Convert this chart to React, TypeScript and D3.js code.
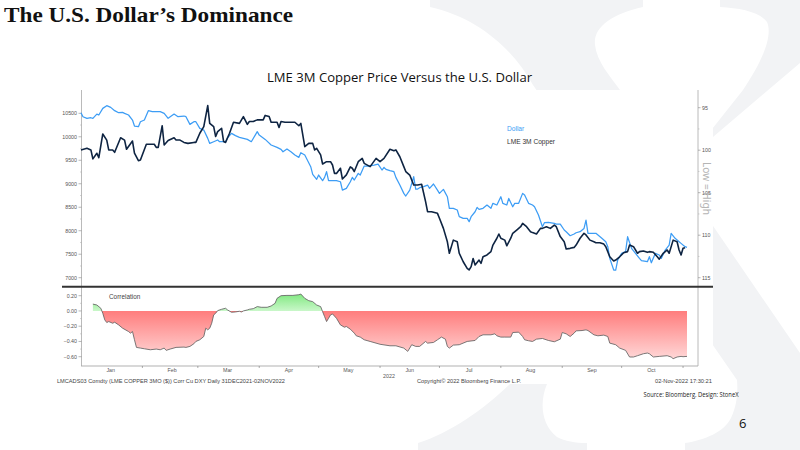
import React from "react";
import * as d3 from "d3";

const START = "2022-01-01";

// days since START
const copperDays = [0,3,5,6,8,9,11,13,14,16,17,20,22,23,26,27,29,30,33,35,37,38,39,41,42,44,47,48,50,52,54,57,58,60,62,64,65,67,68,69,71,72,73,75,77,80,82,84,85,87,89,90,92,93,95,96,97,99,100,101,103,106,108,110,111,113,115,117,118,119,121,122,124,126,127,128,129,131,132,134,136,137,138,140,142,143,146,149,151,153,156,158,159,161,163,164,166,168,170,172,174,175,177,180,181,183,185,186,188,190,191,193,195,196,197,198,199,201,202,203,205,207,208,210,211,212,214,215,217,218,220,222,223,225,227,228,230,232,233,235,237,239,240,242,244,245,247,249,250,252,254,255,257,259,260,262,264,265,267,269,270,272,274,276,277,279,281,282,284,286,287,289,291,292,294,296,297,299,301,302,303,304,305];
const copperPrice = [9720,9755,9720,9530,9650,9555,10060,9930,9720,9720,9670,9980,9930,9735,9910,9650,9490,9505,9840,9840,9840,9775,9775,10235,9825,9920,9980,9930,9930,9880,9860,9880,9880,10075,10215,10665,10285,10215,10005,10110,10180,9900,9880,10075,10310,10285,10430,10265,10325,10325,10360,10360,10360,10455,10430,10310,10310,10310,10200,10325,10310,10310,10310,10235,10285,9790,9860,9860,9720,9755,9615,9420,9470,9470,9400,9220,9220,9330,9100,9190,9360,9330,9260,9470,9540,9435,9365,9540,9470,9540,9735,9705,9720,9575,9365,9260,9185,8975,8975,8990,8620,8405,8405,8370,8265,8050,7765,7520,7800,7765,7520,7340,7200,7165,7235,7410,7270,7375,7305,7445,7485,7555,7695,7840,7930,7840,7800,7680,7840,7945,8015,8085,8155,8085,7980,7960,7930,8050,8050,8085,8050,8120,8085,7875,7765,7610,7625,7645,7695,7840,7945,7910,7800,7765,7745,7745,7715,7660,7445,7355,7375,7445,7530,7555,7695,7660,7520,7555,7570,7540,7555,7540,7445,7395,7520,7590,7520,7800,7765,7590,7485,7625,7640];

const dollarDays = [0,1,3,5,6,8,9,11,13,15,17,19,21,22,24,26,27,29,30,32,34,36,38,40,42,44,47,49,52,53,55,57,58,60,62,64,65,67,69,70,73,74,76,78,80,84,86,89,90,93,96,99,101,102,104,106,108,110,111,113,116,117,119,120,122,123,124,125,127,129,131,132,134,136,137,138,140,141,143,145,148,150,152,153,154,156,158,159,161,163,164,166,168,169,170,171,173,175,176,178,180,181,183,185,186,188,190,191,193,195,196,197,199,200,201,203,205,207,208,210,212,213,215,216,218,219,221,223,224,226,228,229,231,233,234,236,239,240,242,244,245,247,249,250,252,254,255,256,258,260,263,265,266,267,269,270,271,273,275,276,278,280,282,283,286,287,288,290,292,293,295,297,298,300,302,303,305,306];
const dollarIndex = [95.6,96.06,96.25,96.18,96.25,95.75,95.86,95.08,94.76,94.96,95.35,95.59,95.55,95.67,95.86,96.45,97.16,97.24,96.65,96.45,95.35,95.47,95.47,95.47,95.67,96.25,95.75,96.06,95.98,96.06,96.96,96.65,96.65,97.43,97.63,98.61,99.2,99.0,98.8,99.0,99.0,98.53,98.02,98.29,98.49,98.73,99.0,97.82,98.22,98.73,99.39,99.67,99.9,100.18,99.86,100.18,100.57,100.84,100.29,100.57,101.94,102.84,103.43,102.92,103.59,103.2,102.53,103.59,103.59,103.59,103.71,104.69,104.49,103.71,103.2,103.51,102.73,102.92,101.86,101.86,101.75,101.63,102.33,102.02,102.25,102.41,102.53,103.2,104.1,105.08,105.39,104.69,103.12,104.57,104.57,104.41,104.29,104.1,104.49,103.98,104.69,105.08,104.61,105.47,106.84,106.84,107.04,107.82,108.02,108.02,108.41,107.82,107.24,106.73,106.96,106.84,106.45,106.84,106.25,106.45,105.47,106.25,106.45,105.67,106.65,106.25,106.25,105.08,105.27,106.25,106.45,106.65,107.63,109.0,108.53,108.49,108.61,108.69,108.69,109.39,109.59,110.06,109.86,109.71,109.59,109.2,108.22,109.78,109.78,109.78,110.37,110.76,111.35,112.73,114.1,114.1,112.92,112.14,111.94,110.18,111.55,112.14,112.73,113.0,113.12,112.53,113.24,112.14,112.33,112.73,111.75,111.16,109.78,110.37,110.76,110.96,111.35,111.43];

const corrDays = [6,8,10,11,12,13,14,16,17,19,21,24,25,26,27,28,30,32,35,38,40,42,43,45,48,52,53,55,57,58,60,62,63,64,65,66,67,68,69,71,73,74,76,78,80,81,82,84,85,87,89,91,94,96,98,99,101,104,107,110,111,113,115,117,119,121,122,123,124,125,126,127,129,131,133,134,136,138,139,141,143,146,149,151,156,159,163,165,167,169,171,174,175,178,180,182,184,185,186,188,191,195,199,201,203,207,209,210,212,214,217,218,221,223,224,226,228,230,233,236,239,242,243,245,247,249,250,253,255,256,259,261,264,266,267,270,272,275,277,279,281,284,286,287,289,292,296,298,299,301,303,304,306];
const corrValues = [0.09,0.078,0.035,-0.03,-0.117,-0.152,-0.139,-0.161,-0.148,-0.183,-0.226,-0.27,-0.291,-0.27,-0.378,-0.478,-0.487,-0.496,-0.509,-0.5,-0.509,-0.487,-0.517,-0.5,-0.478,-0.474,-0.478,-0.465,-0.43,-0.4,-0.378,-0.335,-0.226,-0.248,-0.226,-0.161,-0.052,-0.03,0.004,0.022,0.035,0.013,-0.017,-0.013,-0.004,-0.013,0.0,0.013,0.022,0.03,0.057,0.048,0.048,0.065,0.1,0.165,0.2,0.204,0.204,0.213,0.222,0.165,0.135,0.122,0.078,0.057,-0.009,-0.074,-0.139,-0.096,-0.052,-0.039,-0.096,-0.183,-0.213,-0.204,-0.239,-0.291,-0.326,-0.343,-0.378,-0.4,-0.422,-0.437,-0.457,-0.457,-0.487,-0.53,-0.443,-0.465,-0.465,-0.4,-0.422,-0.413,-0.378,-0.343,-0.37,-0.465,-0.487,-0.448,-0.443,-0.4,-0.387,-0.335,-0.313,-0.313,-0.3,-0.326,-0.343,-0.343,-0.343,-0.283,-0.278,-0.335,-0.378,-0.391,-0.4,-0.37,-0.361,-0.387,-0.404,-0.37,-0.283,-0.3,-0.335,-0.291,-0.261,-0.257,-0.248,-0.257,-0.313,-0.326,-0.317,-0.335,-0.422,-0.443,-0.487,-0.517,-0.604,-0.604,-0.587,-0.561,-0.552,-0.561,-0.604,-0.596,-0.587,-0.604,-0.626,-0.604,-0.596,-0.6,-0.596];

const copperTicks = [7000, 7500, 8000, 8500, 9000, 9500, 10000, 10500];
const dollarTicks = [95, 100, 105, 110, 115];
const corrTicks = [0.2, 0, -0.2, -0.4, -0.6];
const monthNames = ["Jan", "Feb", "Mar", "Apr", "May", "Jun", "Jul", "Aug", "Sep", "Oct"];

const TITLE = "The U.S. Dollar\u2019s Dominance";
const CHART_TITLE = "LME 3M Copper Price Versus the U.S. Dollar";
const FOOT_LEFT = "LMCADS03 Comdty (LME COPPER    3MO ($)) Corr Cu DXY  Daily 31DEC2021-02NOV2022";
const FOOT_MID = "Copyright\u00A9 2022 Bloomberg Finance L.P.";
const FOOT_RIGHT = "02-Nov-2022 17:30:21";
const SOURCE = "Source: Bloomberg. Design: StoneX";

const WM = "#f2f3f5";
const CU_COLOR = "#0e2442";
const USD_COLOR = "#3d9df5";
const AX = "#a8a8a8";
const TXT = "#555";
const SMALL = "'Liberation Sans', Arial, sans-serif";

export default function App() {
  const start = d3.timeParse("%Y-%m-%d")(START) as Date;
  const toDate = (d: number) => d3.timeDay.offset(start, d);

  const x = d3.scaleTime().domain([start, toDate(306)]).range([81, 687]);
  const yCu = d3.scaleLinear().domain([7000, 10500]).range([277.7, 113.3]);
  const yUsd = d3.scaleLinear().domain([95, 115]).range([107.7, 277.7]);
  const yCorr = d3.scaleLinear().domain([-0.6, 0.2]).range([356.7, 295.7]);

  const cuPts = copperDays.map((d, i) => [x(toDate(d)), yCu(copperPrice[i])] as [number, number]);
  const usdPts = dollarDays.map((d, i) => [x(toDate(d)), yUsd(dollarIndex[i])] as [number, number]);
  const corrPts = corrDays.map((d, i) => [x(toDate(d)), yCorr(corrValues[i])] as [number, number]);

  const line = d3.line<[number, number]>().x((p) => p[0]).y((p) => p[1]);
  const area = d3
    .area<[number, number]>()
    .x((p) => p[0])
    .y0(yCorr(0))
    .y1((p) => p[1]);

  const y0 = yCorr(0);
  const monthStarts = d3.timeMonth.range(toDate(31), toDate(306));
  const monthMids = monthNames.map((_, i) => d3.timeDay.offset(new Date(2022, i, 1), 15));

  const cuMinor = d3.range(7250, 10500, 500);
  const usdMinor = d3.range(97.5, 115, 5);
  const corrMinor = d3.range(-0.5, 0.2, 0.2);

  return (
    <svg
      width={800}
      height={450}
      viewBox="0 0 800 450"
      style={{ position: "fixed", left: 0, top: 0, background: "#fff" }}
    >
      <defs>
        <linearGradient id="negGrad" gradientUnits="userSpaceOnUse" x1="0" y1={y0} x2="0" y2={yCorr(-0.64)}>
          <stop offset="0" stopColor="#ff7d7d" />
          <stop offset="1" stopColor="#ffd9d9" />
        </linearGradient>
        <linearGradient id="posGrad" gradientUnits="userSpaceOnUse" x1="0" y1={yCorr(0.23)} x2="0" y2={y0}>
          <stop offset="0" stopColor="#7fe87f" />
          <stop offset="1" stopColor="#c9f7c9" />
        </linearGradient>
        <clipPath id="posClip">
          <rect x={60} y={280} width={660} height={y0 - 280} />
        </clipPath>
        <clipPath id="negClip">
          <rect x={60} y={y0} width={660} height={80} />
        </clipPath>
      </defs>

      {/* watermark X */}
      <path
        fill={WM}
        d="M430 0 L643 0 L643 7 C612 14 593 27 595 45 C597 62 610 76 620 90 L800 353 L800 450 L685 450 L685 443 C705 440 724 432 731 418 C737 405 738 392 737 380 L533 85 C515 52 480 18 430 7 Z"
      />
      <path
        fill={WM}
        d="M720 0 L800 0 L800 63 L713 137 L547 384 C540 400 540 424 557 437 C565 441 575 443 587 443 L587 450 L418 450 L418 443 C450 433 483 410 510 384 L743 90 C758 68 774 38 767 22 C760 12 740 8 720 7 Z"
      />

      {/* page titles */}
      <text
        x={4}
        y={22}
        fontFamily="'Liberation Serif', 'Times New Roman', serif"
        fontWeight="bold"
        fontSize={21}
        fill="#111"
        textLength={289}
        lengthAdjust="spacingAndGlyphs"
      >
        {TITLE}
      </text>

      {/* chart image box */}
      <rect x={55} y={90} width={658} height={294} fill="#fff" />

      <text
        x={267}
        y={82}
        fontFamily="'Open Sans', 'Noto Sans', sans-serif"
        fontSize={13}
        fill="#111"
        textLength={265}
        lengthAdjust="spacingAndGlyphs"
      >
        {CHART_TITLE}
      </text>

      {/* axes lines */}
      <line x1={81.5} x2={81.5} y1={90} y2={366} stroke={AX} strokeWidth={0.8} />
      <line x1={698} x2={698} y1={90} y2={366} stroke={AX} strokeWidth={0.8} />
      <line x1={81} x2={698} y1={366} y2={366} stroke={AX} strokeWidth={0.9} />

      {/* left copper axis */}
      {copperTicks.map((t) => (
        <g key={"cu" + t}>
          <line x1={78.5} x2={81.5} y1={yCu(t)} y2={yCu(t)} stroke="#888" strokeWidth={0.6} />
          <text x={77} y={yCu(t) + 1.8} textAnchor="end" fontFamily={SMALL} fontSize={5.3} fill={TXT}>
            {t}
          </text>
        </g>
      ))}
      {cuMinor.map((t) => (
        <line key={"cum" + t} x1={80} x2={81.5} y1={yCu(t)} y2={yCu(t)} stroke="#aaa" strokeWidth={0.5} />
      ))}

      {/* right dollar axis */}
      {dollarTicks.map((t) => (
        <g key={"usd" + t}>
          <line x1={698} x2={700.5} y1={yUsd(t)} y2={yUsd(t)} stroke="#888" strokeWidth={0.6} />
          <text x={702} y={yUsd(t) + 1.8} fontFamily={SMALL} fontSize={5.3} fill={TXT}>
            {t}
          </text>
        </g>
      ))}
      {usdMinor.map((t) => (
        <line key={"usdm" + t} x1={698} x2={699.5} y1={yUsd(t)} y2={yUsd(t)} stroke="#aaa" strokeWidth={0.5} />
      ))}
      <text
        transform="translate(703,162) rotate(90)"
        fontFamily="'Noto Sans', 'Liberation Sans', sans-serif"
        fontSize={10}
        fill="#b5b5b5"
        textLength={53}
        lengthAdjust="spacingAndGlyphs"
      >
        Low = High
      </text>

      {/* price lines */}
      <path d={line(usdPts) || ""} fill="none" stroke={USD_COLOR} strokeWidth={1.25} strokeLinejoin="round" />
      <path d={line(cuPts) || ""} fill="none" stroke={CU_COLOR} strokeWidth={1.6} strokeLinejoin="round" />

      {/* legend */}
      <text x={507} y={131} fontFamily={SMALL} fontSize={6.6} fill={USD_COLOR}>
        Dollar
      </text>
      <text x={507} y={144} fontFamily={SMALL} fontSize={6.6} fill="#333">
        LME 3M Copper
      </text>

      {/* separator */}
      <line x1={62} x2={713} y1={286.8} y2={286.8} stroke="#333" strokeWidth={2} />

      {/* correlation panel */}
      <path d={area(corrPts) || ""} fill="url(#posGrad)" clipPath="url(#posClip)" />
      <path d={area(corrPts) || ""} fill="url(#negGrad)" clipPath="url(#negClip)" />
      <path d={line(corrPts) || ""} fill="none" stroke="#626262" strokeWidth={0.85} />
      <text x={109} y={298.5} fontFamily={SMALL} fontSize={6.4} fill="#444">
        Correlation
      </text>
      {corrTicks.map((t) => (
        <g key={"c" + t}>
          <line x1={78.5} x2={81.5} y1={yCorr(t)} y2={yCorr(t)} stroke="#888" strokeWidth={0.6} />
          <text x={77} y={yCorr(t) + 1.8} textAnchor="end" fontFamily={SMALL} fontSize={5.3} fill={TXT}>
            {d3.format(".2f")(t)}
          </text>
        </g>
      ))}
      {corrMinor.map((t) => (
        <line key={"cm" + t} x1={80} x2={81.5} y1={yCorr(t)} y2={yCorr(t)} stroke="#aaa" strokeWidth={0.5} />
      ))}

      {/* time axis */}
      {monthStarts.map((m) => (
        <line key={"mt" + m.getTime()} x1={x(m)} x2={x(m)} y1={366} y2={368} stroke="#777" strokeWidth={0.6} />
      ))}
      {monthMids.map((m, i) => (
        <text key={"ml" + i} x={x(m)} y={371.5} textAnchor="middle" fontFamily={SMALL} fontSize={5.3} fill={TXT}>
          {monthNames[i]}
        </text>
      ))}
      <text x={389} y={377.5} textAnchor="middle" fontFamily={SMALL} fontSize={5.3} fill={TXT}>
        2022
      </text>

      {/* footer */}
      <text x={57} y={382.5} fontFamily={SMALL} fontSize={5} fill="#444" textLength={228} lengthAdjust="spacingAndGlyphs">
        {FOOT_LEFT}
      </text>
      <text x={417} y={382.5} fontFamily={SMALL} fontSize={5} fill="#444" textLength={104} lengthAdjust="spacingAndGlyphs">
        {FOOT_MID}
      </text>
      <text x={655} y={382.5} fontFamily={SMALL} fontSize={5} fill="#444" textLength={57} lengthAdjust="spacingAndGlyphs">
        {FOOT_RIGHT}
      </text>
      <text
        x={643.5}
        y={396.5}
        fontFamily="'Open Sans', 'Noto Sans', sans-serif"
        fontSize={6.5}
        fill="#222"
        textLength={95}
        lengthAdjust="spacingAndGlyphs"
      >
        {SOURCE}
      </text>
      <text x={739} y={428} fontFamily="'Open Sans', 'Noto Sans', sans-serif" fontSize={13} fill="#111">
        6
      </text>
    </svg>
  );
}
